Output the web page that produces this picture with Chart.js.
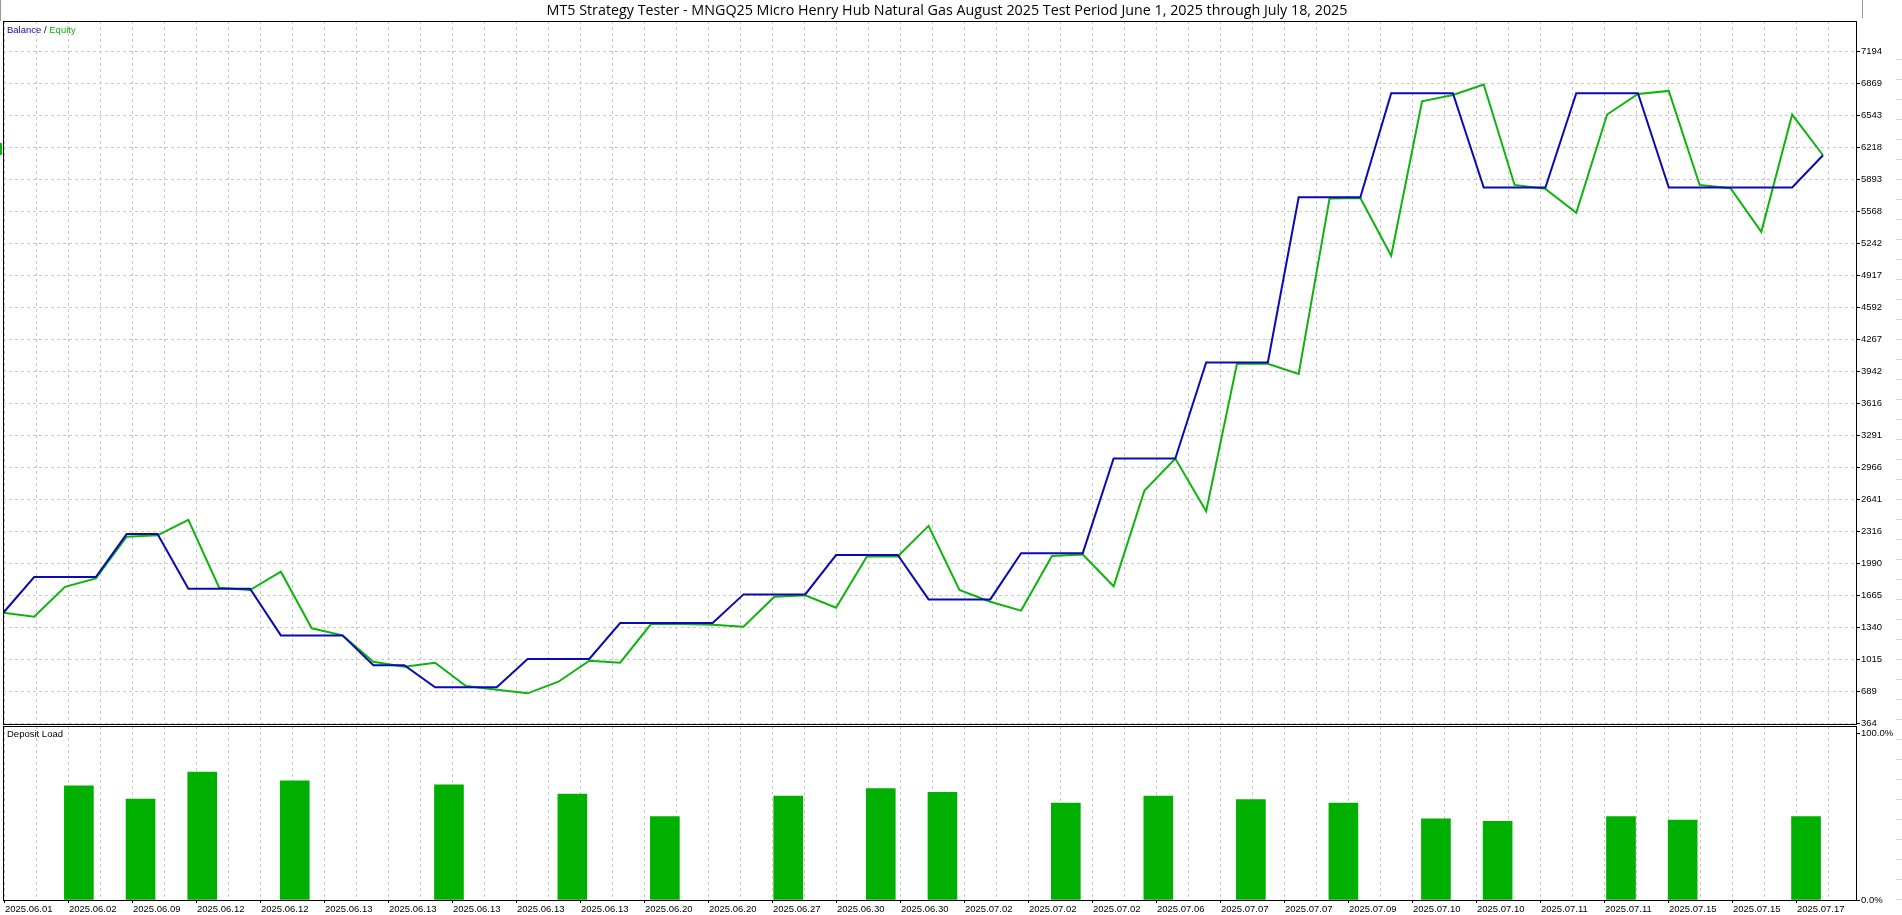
<!DOCTYPE html>
<html>
<head>
<meta charset="utf-8">
<script src="https://cdn.jsdelivr.net/npm/chart.js@4.4.1/dist/chart.umd.min.js"></script>
<style>
  html, body { margin:0; padding:0; background:#fff; width:1902px; height:915px; overflow:hidden; }
  #wrap { position:relative; width:1902px; height:915px; }
  canvas { position:absolute; left:0; top:0; }
  #title { position:absolute; left:0; width:1894px; top:0px; line-height:20px; text-align:center;
           font-family:'Open Sans', sans-serif; font-size:14.3px; color:#000; white-space:nowrap; }
  #legend { position:absolute; left:7px; top:25px; line-height:10px; font-family:'Liberation Sans', sans-serif; font-size:9.5px; color:#000; }
  #dl { position:absolute; left:7px; top:729px; line-height:10px; font-family:'Liberation Sans', sans-serif; font-size:9.5px; color:#000; }
  .edge { position:absolute; background:#9a9a9a; }
  #ruler { position:absolute; left:1896px; top:59px; width:6px; height:842px;
           background:repeating-linear-gradient(to bottom, #d6d6d6 0px, #d6d6d6 1px, transparent 1px, transparent 20px); }
  #mark { position:absolute; left:0px; top:143px; width:2px; height:12px; background:#0cb40c; }
</style>
</head>
<body>
<div id="wrap">
  <canvas id="top" width="1902" height="915"></canvas>
  <canvas id="bot" width="1902" height="915"></canvas>
  <div id="title">MT5 Strategy Tester - MNGQ25 Micro Henry Hub Natural Gas August 2025 Test Period June 1, 2025 through July 18, 2025</div>
  <div id="legend"><span style="color:#0a0ab4">Balance</span> / <span style="color:#0cb40c">Equity</span></div>
  <div id="dl">Deposit Load</div>
  <div class="edge" style="left:0px;top:0px;width:1px;height:21px;"></div>
  <div class="edge" style="left:1862px;top:0px;width:1px;height:18px;"></div>
  <div id="ruler"></div>
  <div id="mark"></div>
</div>
<script>
// ---------------- data ----------------
const dateLabels = ['2025.06.01','2025.06.02','2025.06.09','2025.06.12','2025.06.12','2025.06.13','2025.06.13','2025.06.13','2025.06.13','2025.06.13',
  '2025.06.20','2025.06.20','2025.06.27','2025.06.30','2025.06.30','2025.07.02','2025.07.02','2025.07.02','2025.07.06','2025.07.07',
  '2025.07.07','2025.07.09','2025.07.10','2025.07.10','2025.07.11','2025.07.11','2025.07.15','2025.07.15','2025.07.17'];

const balance = [1488,1851,1851,1851,2288,2288,1732,1732,1732,1258,
  1258,1258,954,954,730,730,730,1018,1018,1018,
  1383,1383,1383,1383,1675,1675,1675,2075,2075,2075,
  1624,1624,1624,2094,2094,2094,3056,3056,3056,4033,
  4033,4033,5712,5712,5712,6770,6770,6770,5812,5812,
  5812,6770,6770,6770,5812,5812,5812,5812,5812,6140];

const equity = [1488,1448,1752,1838,2261,2275,2433,1742,1719,1905,
  1330,1258,990,939,980,743,705,669,787,1000,
  980,1373,1373,1366,1346,1651,1665,1539,2061,2061,
  2372,1719,1600,1510,2065,2080,1757,2731,3056,2521,
  4019,4019,3917,5699,5705,5118,6689,6753,6859,5838,
  5798,5554,6554,6763,6794,5838,5805,5361,6554,6140];

const yTickLabels = ['364','689','1015','1340','1665','1990','2316','2641','2966','3291','3616',
  '3942','4267','4592','4917','5242','5568','5893','6218','6543','6869','7194'];

const loadDeal  = [2,4,6,9,14,18,21,25,28,30,34,37,40,43,46,48,52,54,58];
const loadValue = [68.3,60.5,76.6,71.3,68.9,63.5,50.0,62.3,66.7,64.5,58.0,62.3,60.1,58.0,48.6,47.1,50.0,47.8,50.0];
const loadTickLabels = ['0.0%','100.0%'];
const loadTickValues = [0,100];

// ---------------- layout ----------------
const W = 1902, H = 915;
const PLOT_L = 3, PLOT_R = 1856;
const TOP_A = 21, BOT_A = 724, TOP_B = 726, BOT_B = 900;
const DATA_MIN = -0.01, DATA_MAX = 60.07;      // deal index range across plot width
const GRID_MIN = -0.0625, GRID_MAX = 57.844;   // grid column range across plot width
const GRID_COUNT = 58;
const BAR_SHIFT = 0.45;                        // bar drawn just after its deal

Chart.defaults.font.family = "'Liberation Sans', sans-serif";
Chart.defaults.font.size = 9.5;
Chart.defaults.color = '#000';

const GRID_COLOR = '#c8c8c8';

const framePlugin = {
  id: 'frame',
  afterDraw(chart) {
    const { ctx, chartArea: a } = chart;
    ctx.save();
    ctx.strokeStyle = '#000';
    ctx.lineWidth = 1;
    ctx.strokeRect(Math.round(a.left) + 0.5, Math.round(a.top) + 0.5,
                   Math.round(a.right - a.left), Math.round(a.bottom - a.top));
    ctx.restore();
  }
};

function gridTicks(scale) {
  const t = [];
  for (let i = 0; i < GRID_COUNT; i++) t.push({ value: i });
  scale.ticks = t;
}

// ---------------- top panel: balance / equity ----------------
new Chart(document.getElementById('top'), {
  type: 'line',
  data: {
    datasets: [
      { label: 'Balance', data: balance.map((v, i) => ({ x: i, y: v })),
        borderColor: '#0a0ab4', borderWidth: 2, pointRadius: 0, tension: 0, fill: false,
        xAxisID: 'x', yAxisID: 'y' },
      { label: 'Equity', data: equity.map((v, i) => ({ x: i, y: v })),
        borderColor: '#0cb40c', borderWidth: 2, pointRadius: 0, tension: 0, fill: false,
        xAxisID: 'x', yAxisID: 'y' }
    ]
  },
  options: {
    responsive: false, animation: false, devicePixelRatio: 1,
    layout: { padding: { left: PLOT_L, top: TOP_A, right: 0, bottom: H - BOT_A } },
    plugins: { legend: { display: false }, tooltip: { enabled: false } },
    scales: {
      x: { type: 'linear', display: false, min: DATA_MIN, max: DATA_MAX, offset: false },
      xg: { type: 'linear', position: 'bottom', min: GRID_MIN, max: GRID_MAX, offset: false,
            afterBuildTicks: gridTicks,
            ticks: { display: false },
            grid: { color: GRID_COLOR, drawTicks: false, offset: false },
            border: { display: false, dash: [3, 3] },
            afterFit: s => { s.height = 0; } },
      y: { type: 'linear', position: 'right', min: 357, max: 7505,
           afterBuildTicks: s => { s.ticks = yTickLabels.map(t => ({ value: +t })); },
           ticks: { autoSkip: false, padding: 1, callback: (v, i) => yTickLabels[i] },
           grid: { color: GRID_COLOR, tickColor: '#000', tickLength: 4, tickBorderDash: [] },
           border: { display: false, dash: [3, 3] },
           afterFit: s => { s.width = W - PLOT_R; } }
    }
  },
  plugins: [framePlugin]
});

// ---------------- bottom panel: deposit load ----------------
new Chart(document.getElementById('bot'), {
  type: 'bar',
  data: {
    datasets: [
      { label: 'Deposit Load', data: loadDeal.map((k, i) => ({ x: k + BAR_SHIFT, y: loadValue[i] })),
        backgroundColor: '#00b000', borderWidth: 0, barThickness: 29,
        xAxisID: 'x', yAxisID: 'y' }
    ]
  },
  options: {
    responsive: false, animation: false, devicePixelRatio: 1,
    layout: { padding: { left: PLOT_L, top: TOP_B, right: 0, bottom: 0 } },
    plugins: { legend: { display: false }, tooltip: { enabled: false } },
    scales: {
      x: { type: 'linear', display: false, min: DATA_MIN, max: DATA_MAX, offset: false, grid: { offset: false } },
      xg: { type: 'linear', position: 'bottom', min: GRID_MIN, max: GRID_MAX, offset: false,
            afterBuildTicks: gridTicks,
            ticks: { autoSkip: false, maxRotation: 0, minRotation: 0, align: 'start', padding: 1,
                     callback: (v, i) => (i % 2 === 0 ? dateLabels[i / 2] : '') },
            grid: { color: GRID_COLOR, offset: false, tickLength: 3, tickBorderDash: [],
                    tickColor: c => (c.index % 2 === 0 ? '#000' : 'rgba(0,0,0,0)') },
            border: { display: false, dash: [3, 3] },
            afterFit: s => { s.height = H - BOT_B; } },
      y: { type: 'linear', position: 'right', min: 0, max: 104.2, beginAtZero: true,
           afterBuildTicks: s => { s.ticks = loadTickValues.map(v => ({ value: v })); },
           ticks: { autoSkip: false, padding: 1, callback: (v, i) => loadTickLabels[i] },
           grid: { drawOnChartArea: false, tickColor: '#000', tickLength: 4 },
           border: { display: false },
           afterFit: s => { s.width = W - PLOT_R; } }
    }
  },
  plugins: [framePlugin]
});
</script>
</body>
</html>
